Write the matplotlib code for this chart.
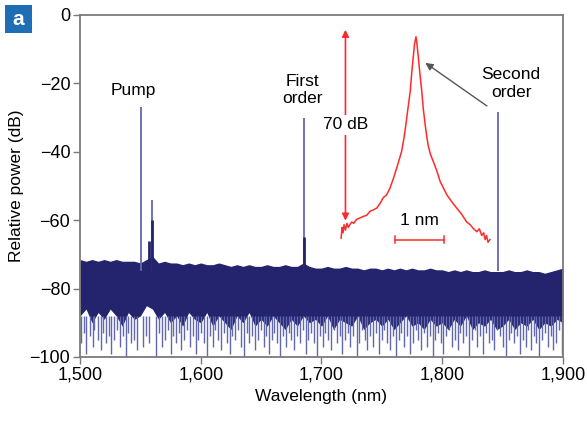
import numpy as np
import matplotlib
matplotlib.use('Agg')
import matplotlib.pyplot as plt
from matplotlib.patches import Rectangle

plt.rcParams['font.family'] = ['Liberation Sans', 'DejaVu Sans']

# ── data ─────────────────────────────────────────────────────────────────────
# noise floor envelope, every 5 nm from 1500 to 1900
noise_wl = np.arange(1500, 1901, 5)
noise_top = [-71.5, -72, -71.5, -72, -71.5, -72, -71.5, -72, -72, -72,
             -72.5, -71.5, -70.5, -72.5, -72, -72.5, -72.5, -73, -72.5, -73,
             -72.5, -73, -73, -72.5, -73, -73.5, -73, -73.5, -73, -73.5,
             -73.5, -73, -73.5, -73.5, -73, -73.5, -73.5, -72.5, -73.5, -74,
             -74, -73.5, -74, -74, -73.5, -74, -74, -74.5, -74, -74,
             -74.5, -74, -74.5, -74, -74.5, -74, -74.5, -74.5, -74, -74.5,
             -74.5, -75, -74.5, -75, -74.5, -75, -75, -74.5, -75, -75,
             -75, -74.5, -75, -75, -74.5, -75, -75, -75.5, -75, -74.5, -74]
noise_bot = [-88, -86, -90, -87, -89, -86, -88, -91, -87, -89,
             -88, -85, -86, -89, -87, -90, -88, -91, -87, -89,
             -90, -87, -91, -88, -90, -92, -88, -90, -87, -91,
             -89, -91, -88, -90, -92, -89, -91, -88, -90, -89,
             -91, -88, -92, -89, -90, -91, -88, -92, -90, -89,
             -91, -89, -92, -90, -88, -91, -90, -92, -89, -91,
             -90, -92, -89, -91, -88, -92, -90, -91, -89, -92,
             -91, -89, -92, -90, -91, -89, -92, -90, -91, -89, -90]

# deep dips below the noise floor
dip_wl = [1501, 1503.5, 1505, 1508, 1510.5, 1512, 1514.5, 1517, 1519, 1521.5,
          1524, 1526, 1528.5, 1531, 1533, 1535.5, 1538, 1540, 1542.5, 1545,
          1547, 1552, 1554.5, 1557, 1563, 1565.5, 1568, 1570, 1572.5, 1575,
          1577, 1579.5, 1582, 1584, 1586.5, 1589, 1591, 1593.5, 1596, 1598,
          1600.5, 1603, 1605, 1607.5, 1610, 1612, 1614.5, 1617, 1619, 1621.5,
          1624, 1626, 1628.5, 1631, 1633, 1635.5, 1638, 1640, 1642.5, 1645,
          1647, 1649.5, 1652, 1654, 1656.5, 1659, 1661, 1663.5, 1666, 1668,
          1670.5, 1673, 1675, 1677.5, 1680, 1682, 1684.5, 1687, 1689, 1691.5,
          1694, 1696, 1698.5, 1701, 1703, 1705.5, 1708, 1710, 1712.5, 1715,
          1717, 1719.5, 1722, 1724, 1726.5, 1729, 1731, 1733.5, 1736, 1738,
          1740.5, 1743, 1745, 1747.5, 1750, 1752, 1754.5, 1757, 1759, 1761.5,
          1764, 1766, 1768.5, 1771, 1773, 1775.5, 1778, 1780, 1782.5, 1785,
          1787, 1789.5, 1792, 1794, 1796.5, 1799, 1801, 1803.5, 1806, 1808,
          1810.5, 1813, 1815, 1817.5, 1820, 1822, 1824.5, 1827, 1829, 1831.5,
          1834, 1836, 1838.5, 1841, 1843, 1845.5, 1848, 1850, 1852.5, 1855,
          1857, 1859.5, 1862, 1864, 1866.5, 1869, 1871, 1873.5, 1876, 1878,
          1880.5, 1883, 1885, 1887.5, 1890, 1892, 1894.5, 1897, 1899]
dip_db = [-96, -93, -99, -94, -97, -92, -95, -98, -93, -96,
          -94, -99, -95, -92, -97, -94, -100, -93, -96, -95,
          -98, -97, -94, -96, -100, -93, -97, -95, -92, -99,
          -94, -96, -93, -98, -95, -92, -97, -94, -99, -95,
          -93, -96, -100, -94, -97, -92, -95, -98, -93, -96,
          -99, -94, -95, -92, -97, -100, -93, -96, -94, -98,
          -95, -92, -97, -94, -99, -95, -93, -96, -100, -94,
          -97, -93, -95, -98, -94, -96, -92, -99, -95, -93,
          -96, -100, -94, -97, -93, -95, -98, -92, -96, -94,
          -99, -95, -93, -97, -94, -100, -96, -92, -95, -98,
          -94, -97, -93, -99, -95, -92, -96, -98, -94, -100,
          -95, -93, -97, -94, -99, -96, -92, -95, -98, -93,
          -97, -94, -100, -95, -93, -96, -99, -94, -92, -97,
          -95, -98, -93, -96, -94, -100, -95, -92, -97, -94,
          -99, -93, -96, -95, -98, -92, -94, -97, -100, -95,
          -93, -96, -94, -99, -95, -97, -92, -98, -94, -96,
          -100, -95, -93, -97, -94, -98, -96, -92, -99]

# spectral lines (pump, pump sideband, first order, second order)
line_wl = [1550.5, 1559.6, 1685.5, 1846.0]
line_db = [-27, -54, -30, -28.5]
# broader bases of the lines
base_wl = [1557.5, 1559.6, 1685.8]
base_db = [-66, -60, -65]

# inset: close-up of the second-order line (offset in nm, dB relative)
inset_nm = [-1.55, -1.53, -1.51, -1.49, -1.46, -1.43, -1.40, -1.37, -1.33, -1.29,
            -1.23, -1.16, -1.10, -1.02, -0.95, -0.88, -0.81, -0.74, -0.68, -0.61,
            -0.54, -0.47, -0.40, -0.35, -0.30, -0.25, -0.21, -0.16, -0.12, -0.09,
            -0.06, -0.03, 0.0, 0.02, 0.05, 0.08, 0.12, 0.15, 0.19, 0.22,
            0.25, 0.30, 0.36, 0.43, 0.50, 0.57, 0.64, 0.74, 0.84, 0.94,
            1.05, 1.12, 1.19, 1.26, 1.31, 1.36, 1.40, 1.43, 1.46, 1.49, 1.53]
inset_db = [-76, -72, -74, -71, -73, -70.5, -72, -71, -70, -70.5,
            -69, -68.5, -68, -67.5, -66, -65.5, -64.8, -63, -61, -60,
            -57.5, -54, -50, -47, -44, -39, -34, -27, -21.7, -15,
            -9.4, -4, -1.4, -4, -9.3, -15, -21.7, -28, -34, -38,
            -41.5, -45, -47.7, -51, -55, -57.5, -60, -62.5, -64.8, -67,
            -70, -71, -72.5, -73.6, -72.5, -75, -74, -76.5, -75, -77.5, -76.5]

navy = '#23236e'
light = '#6367ad'
red = '#ff2a2a'
grey = '#7a7a7a'

fig = plt.figure(figsize=(5.87, 4.26), dpi=100)
ax = fig.add_axes([0.1363, 0.162, 0.8228, 0.8028])

ax.vlines(dip_wl, -88, dip_db, color=light, lw=1.0)
ax.fill_between(noise_wl, noise_bot, noise_top, color=navy, lw=0)
ax.vlines(line_wl, -75, line_db, color=light, lw=1.3)
ax.vlines(base_wl, -75, base_db, color=navy, lw=2.0)

ax.set_xlim(1500, 1900)
ax.set_ylim(-100, 0)
ax.set_xticks([1500, 1600, 1700, 1800, 1900])
ax.set_xticklabels(['1,500', '1,600', '1,700', '1,800', '1,900'])
ax.set_yticks([-100, -80, -60, -40, -20, 0])
ax.set_yticklabels(['\u2212100', '\u221280', '\u221260', '\u221240', '\u221220', '0'])
ax.tick_params(length=5, width=1, color=grey, labelsize=13, pad=2)
for s in ax.spines.values():
    s.set_color(grey)
    s.set_linewidth(1.3)
ax.set_xlabel('Wavelength (nm)', fontsize=12.5, labelpad=4)
ax.set_ylabel('Relative power (dB)', fontsize=12.5, labelpad=4)

ax.text(1544, -22, 'Pump', fontsize=12.5, ha='center', va='center')
ax.text(1684, -22, 'First\norder', fontsize=12.5, ha='center', va='center',
        linespacing=1.2)
ax.text(1857, -20, 'Second\norder', fontsize=12.5, ha='center', va='center',
        linespacing=1.2)

# inset close-up
ins = fig.add_axes([0.577, 0.4155, 0.2634, 0.5197])
ins.set_xlim(-1.6, 1.6)
ins.set_ylim(-80, 2)
ins.axis('off')
ins.plot(inset_nm, inset_db, color=red, lw=1.1)
ins.annotate('', xy=(-1.46, 1.2), xytext=(-1.46, -69.5),
             arrowprops=dict(arrowstyle='<|-|>', color=red, lw=1.2,
                             mutation_scale=10, shrinkA=0, shrinkB=0))
ins.text(-1.46, -34, '70 dB', fontsize=12.5, ha='center', va='center',
         bbox=dict(facecolor='white', edgecolor='none', pad=2))
ins.plot([-0.43, 0.57], [-76.5, -76.5], color=red, lw=1.1)
ins.plot([-0.43, -0.43], [-75.2, -77.8], color=red, lw=1.1)
ins.plot([0.57, 0.57], [-75.2, -77.8], color=red, lw=1.1)
ins.text(0.07, -69.5, '1 nm', fontsize=12.5, ha='center', va='center')

# arrow from the "Second order" label to the close-up
ax.annotate('', xy=(1786, -14), xytext=(1837, -26.6),
            arrowprops=dict(arrowstyle='-|>', color='#555555', lw=1.0,
                            mutation_scale=11, shrinkA=0, shrinkB=0))

# panel letter
fig.patches.append(Rectangle((0.0085, 0.9225), 0.046, 0.0657,
                             transform=fig.transFigure, facecolor='#1f6db5',
                             edgecolor='none'))
fig.text(0.0315, 0.955, 'a', fontsize=15, fontweight='bold', color='white',
         ha='center', va='center')

fig.savefig('out.png', dpi=100)
